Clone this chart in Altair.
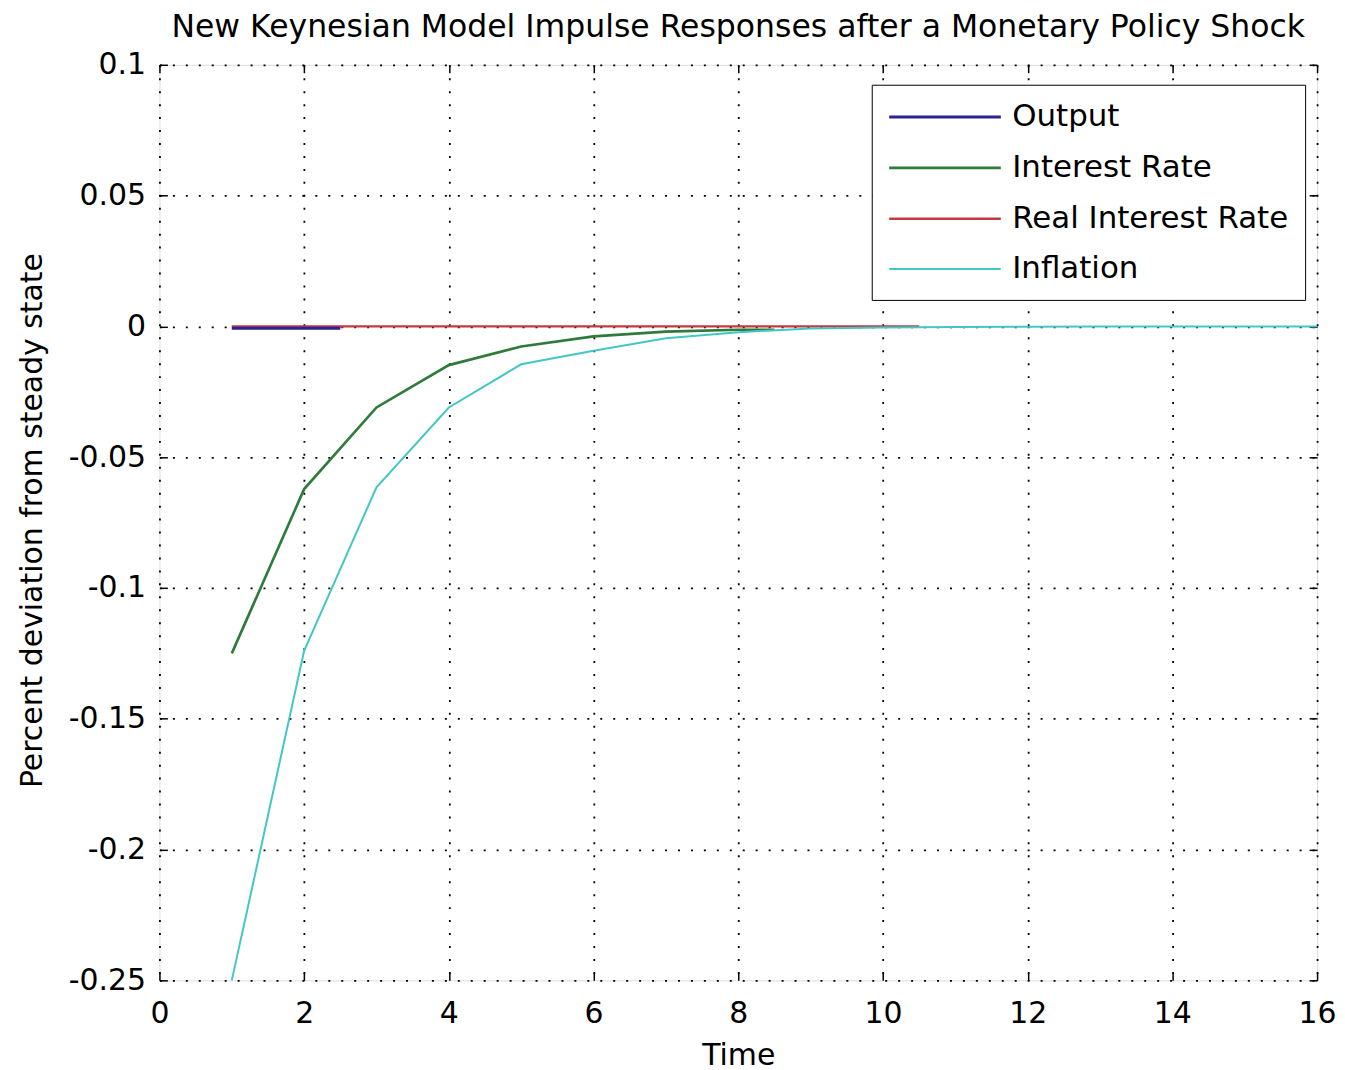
import altair as alt
import pandas as pd

series_names = ["Output", "Interest Rate", "Real Interest Rate", "Inflation"]
series_colors = ["#2a2394", "#2e7b3b", "#c23a3f", "#45c6c6"]
series_widths = [3, 2, 2, 2]

output_time = [1, 2, 2.5]
output_vals = [-0.0007, -0.0007, -0.0007]

interest_time = [1, 2, 3, 4, 5, 6, 7, 8, 8.5]
interest_vals = [-0.125, -0.0622, -0.031, -0.0148, -0.0077, -0.0038, -0.002, -0.0013, -0.0013]

real_time = [1, 10.5]
real_vals = [0.0, 0.0]

inflation_time = [1, 2, 3, 4, 5, 6, 7, 8, 9, 10, 11, 12, 13, 14, 15, 16]
inflation_vals = [-0.25, -0.124, -0.0615, -0.031, -0.0145, -0.0093, -0.0045, -0.0022,
                  -0.0008, -0.0004, -0.0002, -0.0001, 0.0, 0.0, 0.0, 0.0]

x_ticks = [0, 2, 4, 6, 8, 10, 12, 14, 16]
y_ticks = [-0.25, -0.2, -0.15, -0.1, -0.05, 0, 0.05, 0.1]

rows = []
# drawing order: Output last so it sits on top of the zero line
for name, ts, vs in [("Interest Rate", interest_time, interest_vals),
                     ("Real Interest Rate", real_time, real_vals),
                     ("Inflation", inflation_time, inflation_vals),
                     ("Output", output_time, output_vals)]:
    for t, v in zip(ts, vs):
        rows.append({"time": t, "value": v, "series": name})
df = pd.DataFrame(rows)

FONT = "DejaVu Sans"
xscale = alt.Scale(domain=[0, 16], nice=False, zero=False)
yscale = alt.Scale(domain=[-0.25, 0.1], nice=False, zero=False)

lines = alt.Chart(df).mark_line().encode(
    x=alt.X("time:Q", scale=xscale, axis=alt.Axis(
        orient="bottom", values=x_ticks, offset=-8, tickSize=8, tickColor="black",
        tickWidth=1.5, domain=False, grid=True, gridColor="black", gridDash=[2, 11],
        gridWidth=1.8, gridOpacity=1, labelFont=FONT, labelFontSize=30, labelColor="black",
        labelPadding=42, labelBaseline="alphabetic", labelFlush=False, labelOverlap=False,
        format="d", title="Time", titleFont=FONT, titleFontSize=30, titleFontWeight="normal",
        titleColor="black", titleY=92, titleBaseline="alphabetic")),
    y=alt.Y("value:Q", scale=yscale, axis=alt.Axis(
        orient="left", values=y_ticks, offset=-8, tickSize=8, tickColor="black",
        tickWidth=1.5, domain=False, grid=True, gridColor="black", gridDash=[2, 11],
        gridWidth=1.8, gridOpacity=1, labelFont=FONT, labelFontSize=30, labelColor="black",
        labelPadding=14, labelFlush=False, labelOverlap=False,
        labelExpr="'' + datum.value",
        title="Percent deviation from steady state", titleFont=FONT, titleFontSize=30,
        titleFontWeight="normal", titleColor="black", titleX=-135, titleY=457,
        titleAngle=270, titleBaseline="middle", titleAlign="center")),
    color=alt.Color("series:N", sort=series_names,
                    scale=alt.Scale(domain=series_names, range=series_colors),
                    legend=alt.Legend(
                        title=None, orient="none", legendX=715, legendY=20,
                        direction="vertical", symbolType="M-1,0H6.47", symbolSize=900,
                        symbolStrokeWidth=2, labelFont=FONT, labelFontSize=31,
                        labelColor="black", labelOffset=92, labelLimit=500,
                        rowPadding=19, padding=16, strokeColor="black",
                        fillColor="white")),
    strokeWidth=alt.StrokeWidth("series:N", sort=series_names,
                                scale=alt.Scale(domain=series_names, range=series_widths),
                                legend=None),
)

ticks_layer = alt.Chart(df).mark_point(opacity=0).encode(
    x=alt.X("time:Q", scale=xscale, axis=alt.Axis(
        orient="top", values=x_ticks, offset=-8, tickSize=8, tickColor="black",
        tickWidth=1.5, domain=False, grid=False, labels=False, title=None)),
    y=alt.Y("value:Q", scale=yscale, axis=alt.Axis(
        orient="right", values=y_ticks, offset=-8, tickSize=8, tickColor="black",
        tickWidth=1.5, domain=False, grid=False, labels=False, title=None)),
)

chart = alt.layer(ticks_layer, lines).resolve_axis(
    x="independent", y="independent"
).properties(
    width=1162, height=919,
    title=alt.Title("New Keynesian Model Impulse Responses after a Monetary Policy Shock",
                    font=FONT, fontSize=31.6, fontWeight="normal", color="black",
                    anchor="middle", frame="group", offset=-19, baseline="alphabetic"),
    autosize=alt.AutoSizeParams(type="none"),
    padding={"left": 152, "top": 55, "right": 20, "bottom": 95},
).configure_view(
    stroke="black", strokeWidth=2
).configure_legend(
    strokeWidth=2
).configure(background="white")

chart.save("out.html", embed_options={"renderer": "svg", "actions": False})
